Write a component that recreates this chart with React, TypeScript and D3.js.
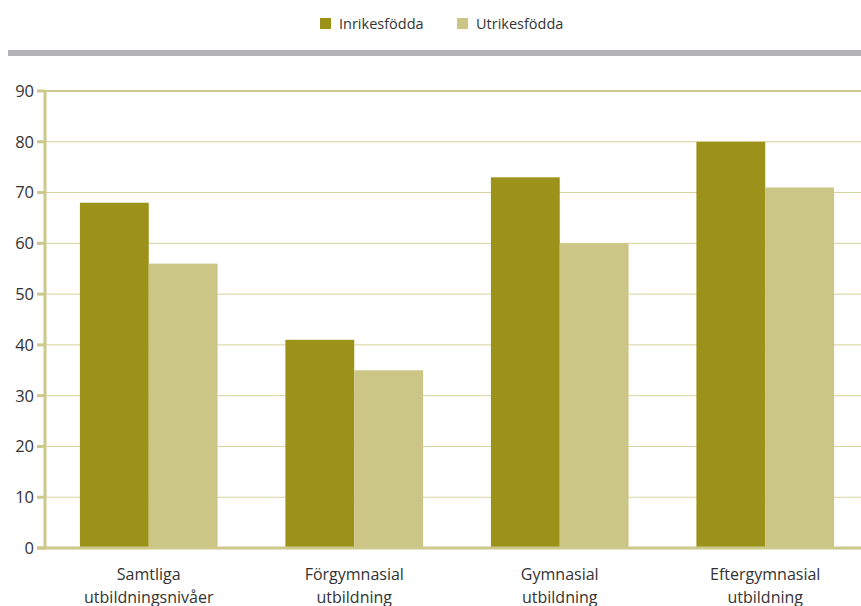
import React, { useEffect, useRef } from "react";
import * as d3 from "d3";

const categories = [
  ["Samtliga", "utbildningsnivåer"],
  ["Förgymnasial", "utbildning"],
  ["Gymnasial", "utbildning"],
  ["Eftergymnasial", "utbildning"],
];
const seriesNames = ["Inrikesfödda", "Utrikesfödda"];
const inrikes = [68, 41, 73, 80];
const utrikes = [56, 35, 60, 71];
const yTicks = [0, 10, 20, 30, 40, 50, 60, 70, 80, 90];

const colors = ["#9c9219", "#cbc686"];
const axisColor = "#cdc88b";
const font = "'Open Sans', 'Noto Sans', sans-serif";

export default function App() {
  const ref = useRef<SVGSVGElement>(null);

  useEffect(() => {
    const width = 861;
    const height = 606;
    const svg = d3.select(ref.current);
    svg.selectAll("*").remove();
    svg.attr("width", width).attr("height", height);

    // legend
    const legend = svg.append("g");
    const legendX = [320, 457];
    seriesNames.forEach((name, i) => {
      legend.append("rect")
        .attr("x", legendX[i]).attr("y", 18)
        .attr("width", 11).attr("height", 11)
        .attr("fill", colors[i]);
      legend.append("text")
        .attr("x", legendX[i] + 19).attr("y", 29)
        .attr("font-family", font).attr("font-size", 14.5)
        .attr("fill", "#333")
        .text(name);
    });

    // grey divider
    svg.append("rect")
      .attr("x", 8).attr("y", 50)
      .attr("width", width - 8).attr("height", 6)
      .attr("fill", "#b3b3b5");

    const x0 = d3.scaleBand<number>()
      .domain(d3.range(categories.length))
      .range([46, 868])
      .paddingInner(0.33)
      .paddingOuter(0.165);
    const x1 = d3.scaleBand<number>()
      .domain([0, 1])
      .range([0, x0.bandwidth()]);
    const y = d3.scaleLinear().domain([0, 90]).range([548, 91]);

    // grid
    svg.append("g").selectAll("line")
      .data(yTicks.filter(t => t > 0 && t < 90))
      .enter().append("line")
      .attr("x1", 45).attr("x2", width)
      .attr("y1", d => y(d)).attr("y2", d => y(d))
      .attr("stroke", "#d6d29e").attr("stroke-width", 1);
    svg.append("line")
      .attr("x1", 45).attr("x2", width)
      .attr("y1", y(90)).attr("y2", y(90))
      .attr("stroke", axisColor).attr("stroke-width", 2);

    // bars
    const series = [inrikes, utrikes];
    const groups = svg.append("g").selectAll("g")
      .data(categories)
      .enter().append("g")
      .attr("transform", (d, i) => `translate(${x0(i)},0)`);
    groups.selectAll("rect")
      .data((d, i) => series.map((s, j) => ({ v: s[i], j })))
      .enter().append("rect")
      .attr("x", d => x1(d.j)!)
      .attr("width", x1.bandwidth())
      .attr("y", d => y(d.v))
      .attr("height", d => y(0) - y(d.v))
      .attr("fill", d => colors[d.j]);

    // axes lines
    svg.append("line")
      .attr("x1", 45).attr("x2", 45)
      .attr("y1", y(90) - 1).attr("y2", y(0) + 1.5)
      .attr("stroke", axisColor).attr("stroke-width", 3);
    svg.append("line")
      .attr("x1", 37).attr("x2", width)
      .attr("y1", y(0)).attr("y2", y(0))
      .attr("stroke", axisColor).attr("stroke-width", 3);

    // y ticks
    const yt = svg.append("g");
    yTicks.forEach(t => {
      yt.append("line")
        .attr("x1", 37).attr("x2", 45)
        .attr("y1", y(t)).attr("y2", y(t))
        .attr("stroke", axisColor).attr("stroke-width", 3);
      yt.append("text")
        .attr("x", 34).attr("y", y(t)).attr("dy", "0.36em")
        .attr("text-anchor", "end")
        .attr("font-family", font).attr("font-size", 16.5)
        .attr("fill", "#333")
        .text(t);
    });

    // category labels
    categories.forEach((lines, i) => {
      const cx = x0(i)! + x0.bandwidth() / 2;
      lines.forEach((line, k) => {
        svg.append("text")
          .attr("x", cx).attr("y", 580 + k * 23)
          .attr("text-anchor", "middle")
          .attr("font-family", font).attr("font-size", 16)
          .attr("fill", "#333")
          .text(line);
      });
    });
  }, []);

  return (
    <svg ref={ref} style={{ position: "absolute", left: 0, top: 0 }} />
  );
}
